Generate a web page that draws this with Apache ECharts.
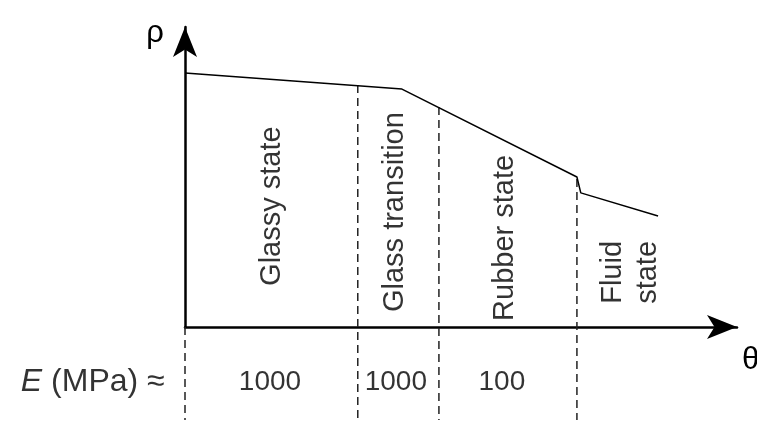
<!DOCTYPE html>
<html>
<head>
<meta charset="utf-8">
<script src="https://cdn.jsdelivr.net/npm/echarts@6/dist/echarts.min.js"></script>
<style>
  html, body { margin: 0; padding: 0; background: #fff; }
  #chart { width: 757px; height: 424px; }
</style>
</head>
<body>
<div id="chart"></div>
<script>
// density curve (temperature -> density), arbitrary units 0..100
var curveX = [0, 39.3, 71.0, 71.7, 85.7];
var curveY = [84.7, 79.3, 50.0, 44.7, 37.0];

// state boundaries (dashed), top point sits on the curve
var boundaryX = [0, 31.3, 46.0, 71.0];
var boundaryTop = [0, 80.7, 73.3, 49.3];
var boundaryBottom = -31;

// state names, placed inside each region
var stateNames = ["Glassy state", "Glass transition", "Rubber state", "Fluid\nstate"];
var stateX = [15.8, 38.0, 58.0, 80.7];
var stateY = [40.3, 38.3, 29.7, 18.2];

// modulus row below the axis
var modulusLabels = ["1000", "1000", "100"];
var modulusX = [15.4, 38.2, 57.4];
var modulusY = -18.3;
var modulusTitleX = -3.6;

var font = "'Liberation Sans', Arial, sans-serif";

var chart = echarts.init(document.getElementById("chart"));

var series = [];

// curve
series.push({
  type: "line",
  data: curveX.map(function (x, i) { return [x, curveY[i]]; }),
  symbol: "none",
  lineStyle: { color: "#000", width: 1.5 },
  z: 3
});

// dashed boundaries
boundaryX.forEach(function (x, i) {
  series.push({
    type: "line",
    data: [[x, boundaryTop[i]], [x, boundaryBottom]],
    symbol: "none",
    clip: false,
    lineStyle: { color: "#222", width: 1.5, type: [8, 5] },
    z: 1
  });
});

// state labels (rotated)
series.push({
  type: "scatter",
  data: stateX.map(function (x, i) { return { value: [x, stateY[i]], name: stateNames[i] }; }),
  symbolSize: 1,
  itemStyle: { color: "rgba(0,0,0,0)" },
  clip: false,
  label: {
    show: true,
    position: "inside",
    rotate: 90,
    formatter: "{b}",
    color: "#000",
    fontFamily: font,
    fontSize: 29,
    lineHeight: 35
  }
});

// modulus values
series.push({
  type: "scatter",
  data: modulusX.map(function (x, i) { return { value: [x, modulusY], name: modulusLabels[i] }; }),
  symbolSize: 1,
  itemStyle: { color: "rgba(0,0,0,0)" },
  clip: false,
  label: {
    show: true,
    position: "inside",
    formatter: "{b}",
    color: "#000",
    fontFamily: font,
    fontSize: 28
  }
});

// modulus row title
series.push({
  type: "scatter",
  data: [{ value: [modulusTitleX, modulusY], name: "E" }],
  symbolSize: 1,
  itemStyle: { color: "rgba(0,0,0,0)" },
  clip: false,
  label: {
    show: true,
    position: "left",
    distance: 0,
    formatter: "{e|E} (MPa) ≈",
    color: "#000",
    fontFamily: font,
    fontSize: 32,
    rich: {
      e: { fontStyle: "italic", fontFamily: font, fontSize: 32, color: "#000" }
    }
  }
});

var option = {
  animation: false,
  backgroundColor: "#fff",
  grid: { left: 185, right: 20, top: 27, bottom: 97, outerBoundsMode: "none" },
  xAxis: {
    type: "value",
    min: 0,
    max: 100,
    name: "θ",
    nameLocation: "end",
    nameGap: 5,
    nameMoveOverlap: false,
    nameTextStyle: {
      fontFamily: font, fontSize: 31, color: "#000",
      align: "left", verticalAlign: "top", padding: [18, 0, 0, 0]
    },
    axisLine: {
      lineStyle: { color: "#000", width: 2.5 },
      symbol: ["none", "arrow"],
      symbolSize: [18, 30]
    },
    axisTick: { show: false },
    axisLabel: { show: false },
    splitLine: { show: false }
  },
  yAxis: {
    type: "value",
    min: 0,
    max: 100,
    name: "ρ",
    nameLocation: "end",
    nameGap: -6,
    nameMoveOverlap: false,
    nameTextStyle: {
      fontFamily: font, fontSize: 31, color: "#000",
      align: "right", verticalAlign: "middle", padding: [0, 21, 0, 0]
    },
    axisLine: {
      lineStyle: { color: "#000", width: 2.5 },
      symbol: ["none", "arrow"],
      symbolSize: [18, 30]
    },
    axisTick: { show: false },
    axisLabel: { show: false },
    splitLine: { show: false }
  },
  series: series
};

chart.setOption(option);
</script>
</body>
</html>
